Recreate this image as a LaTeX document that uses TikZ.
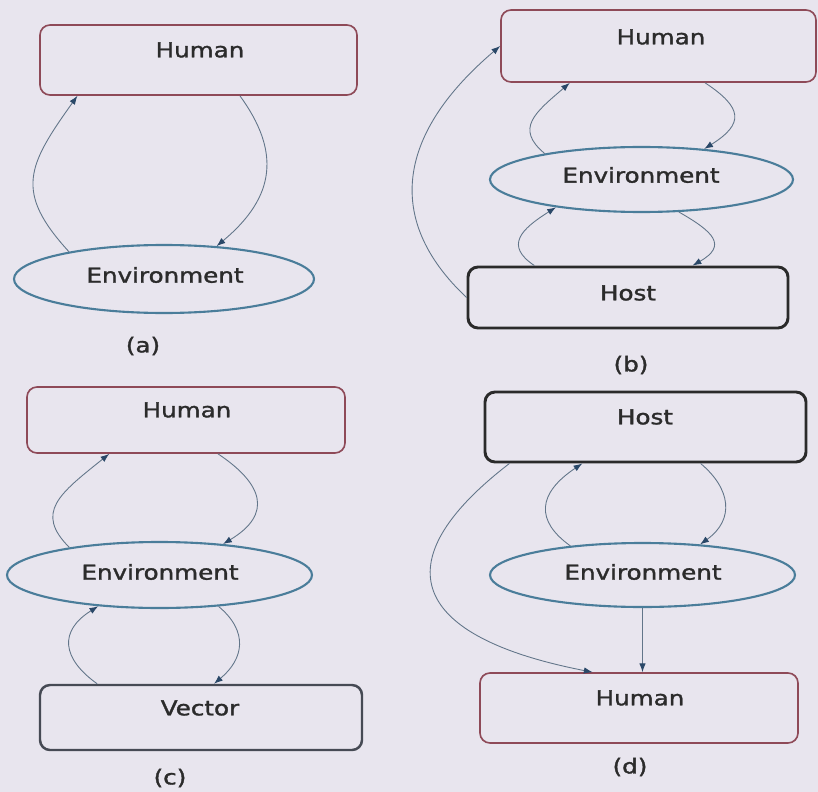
\documentclass[tikz,border=0pt]{standalone}
\usepackage{fontspec}
\setmainfont{DejaVu Sans}
\newfontfamily\lblfont{DejaVu Sans}[FakeBold=1.4]
\usepackage{graphicx}
\usetikzlibrary{arrows.meta,calc,shapes.geometric}
\definecolor{paper}{HTML}{E8E5EE}
\definecolor{humanred}{HTML}{8E4A58}
\definecolor{envblue}{HTML}{4A7D9A}
\definecolor{hostdark}{HTML}{2A2A2A}
\definecolor{vecdark}{HTML}{464A54}
\definecolor{linkblue}{HTML}{627589}
\definecolor{tipblue}{HTML}{2A4868}
\definecolor{ink}{HTML}{2B2B2B}
% slightly widened lettering
\newcommand{\wide}[1]{\scalebox{1.2}[1]{#1}}

\begin{document}
\begin{tikzpicture}[x=0.03cm,y=-0.03cm,
  every node/.style={font=\lblfont\fontsize{17.5}{20}\selectfont, text=ink},
  box/.style={rectangle, rounded corners=0.3cm, inner sep=0pt},
  humanbox/.style={box, draw=humanred, line width=1.4pt},
  hostbox/.style={box, draw=hostdark, line width=2.5pt},
  vectorbox/.style={box, draw=vecdark, line width=2.1pt},
  envell/.style={ellipse, draw=envblue, line width=1.8pt, inner sep=0pt},
  link/.style={draw=linkblue, line width=0.75pt, -{Latex[length=7.5pt,width=5.5pt,color=tipblue]}}
]
\fill[paper] (0,0) rectangle (818,792);
\useasboundingbox (0,0) rectangle (818,792);

% ---------- (a) ----------
\node[humanbox, minimum width=317*0.03cm, minimum height=70*0.03cm] (ha) at (198.5,60) {};
\node (ha-t) at (200,50) {\wide{Human}};
\node[envell, minimum width=300*0.03cm, minimum height=68*0.03cm] (ea) at (164,279) {};
\node (ea-t) at (165,275) {\wide{Environment}};
\node (cap-a) at (143,346) {\wide{(a)}};
\draw[link] (ea.164) .. controls +(-55,-60) and +(-50,70) .. ($(ha.south west)!0.12!(ha.south east)$);
\draw[link] ($(ha.south west)!0.63!(ha.south east)$) .. controls +(40,55) and +(60,-50) .. (ea.32);

% ---------- (b) ----------
\node[humanbox, minimum width=315*0.03cm, minimum height=72*0.03cm] (hb) at (658.5,46) {};
\node (hb-t) at (661,37) {\wide{Human}};
\node[envell, minimum width=303*0.03cm, minimum height=65*0.03cm] (eb) at (641.5,179.5) {};
\node (eb-t) at (641,175) {\wide{Environment}};
\node[hostbox, minimum width=320*0.03cm, minimum height=61*0.03cm] (hob) at (628,297.5) {};
\node (hob-t) at (628,293) {\wide{Host}};
\node (cap-b) at (631,365) {\wide{(b)}};
\draw[link] (eb.165.5) .. controls +(-30,-25) and +(-35,30) .. ($(hb.south west)!0.22!(hb.south east)$);
\draw[link] ($(hb.south west)!0.647!(hb.south east)$) .. controls +(38,25) and +(40,-25) .. (eb.26);
\draw[link] ($(hob.north west)!0.21!(hob.north east)$) .. controls +(-30,-20) and +(-35,22) .. (eb.198);
\draw[link] (eb.-41) .. controls +(35,20) and +(35,-20) .. ($(hob.north west)!0.70!(hob.north east)$);
\draw[link] (hob.west) .. controls +(-85,-80) and +(-100,85) .. (hb.west);

% ---------- (c) ----------
\node[humanbox, minimum width=318*0.03cm, minimum height=66*0.03cm] (hc) at (186,420) {};
\node (hc-t) at (187,410) {\wide{Human}};
\node[envell, minimum width=305*0.03cm, minimum height=66*0.03cm] (ec) at (159.5,575) {};
\node (ec-t) at (160,572) {\wide{Environment}};
\node[vectorbox, minimum width=322*0.03cm, minimum height=65*0.03cm] (vc) at (201,717.5) {};
\node (vc-t) at (200,708) {\wide{Vector}};
\node (cap-c) at (170,778) {\wide{(c)}};
\draw[link] (ec.163.4) .. controls +(-35,-35) and +(-50,40) .. ($(hc.south west)!0.26!(hc.south east)$);
\draw[link] ($(hc.south west)!0.60!(hc.south east)$) .. controls +(45,30) and +(50,-30) .. (ec.26.6);
\draw[link] ($(vc.north west)!0.18!(vc.north east)$) .. controls +(-35,-25) and +(-40,25) .. (ec.207);
\draw[link] (ec.-28) .. controls +(30,25) and +(30,-25) .. ($(vc.north west)!0.54!(vc.north east)$);

% ---------- (d) ----------
\node[hostbox, minimum width=321*0.03cm, minimum height=70*0.03cm] (hd) at (645.5,427) {};
\node (hd-t) at (645,417) {\wide{Host}};
\node[envell, minimum width=305*0.03cm, minimum height=64*0.03cm] (ed) at (642.5,575) {};
\node (ed-t) at (643,572) {\wide{Environment}};
\node[humanbox, minimum width=318*0.03cm, minimum height=70*0.03cm] (hud) at (639,708) {};
\node (hud-t) at (640,698) {\wide{Human}};
\node (cap-d) at (630,767) {\wide{(d)}};
\draw[link] (ed.158.4) .. controls +(-35,-25) and +(-45,30) .. ($(hd.south west)!0.305!(hd.south east)$);
\draw[link] ($(hd.south west)!0.67!(hd.south east)$) .. controls +(30,25) and +(35,-25) .. (ed.28.2);
\draw[link] (ed.south) -- (ed.south |- hud.north);
\draw[link] ($(hd.south west)!0.08!(hd.south east)$) .. controls +(-130,100) and +(-180,-35) .. ($(hud.north west)!0.355!(hud.north east)$);
\end{tikzpicture}
\end{document}
